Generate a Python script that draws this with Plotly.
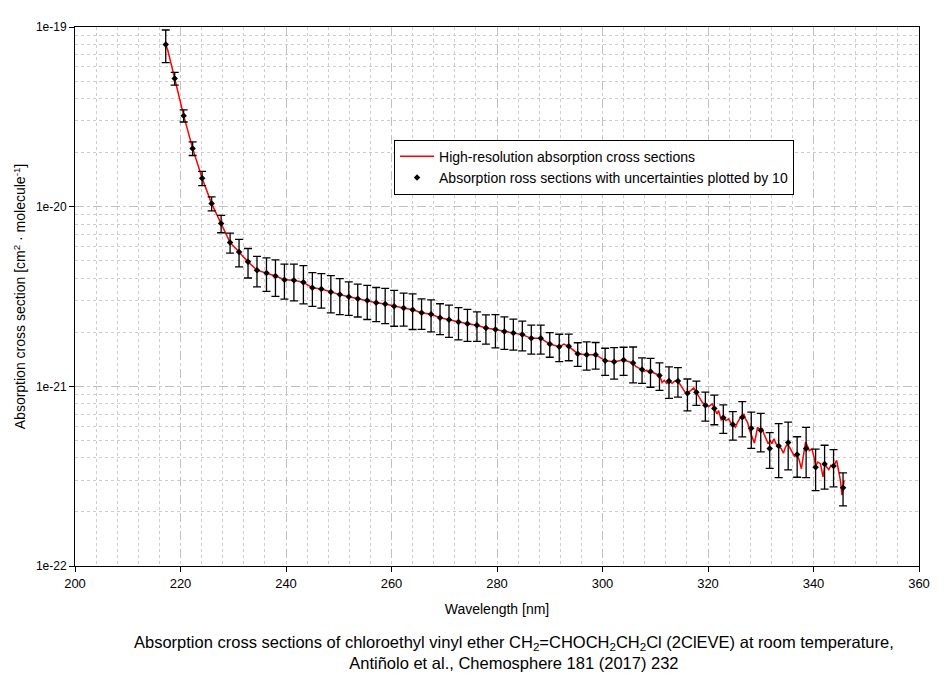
import plotly.graph_objects as go

# Marker data (every 10th point) with relative uncertainties
pt_wl = [217.2, 218.9, 220.6, 222.3, 224.1, 225.9, 227.7, 229.4, 231.1, 232.8,
         234.5, 236.3, 238.0, 239.7, 241.5, 243.3, 245.0, 246.7, 248.5, 250.2,
         251.9, 253.6, 255.4, 257.1, 258.8, 260.5, 262.3, 264.0, 265.7, 267.5,
         269.2, 270.9, 272.7, 274.4, 276.2, 277.9, 279.7, 281.4, 283.1, 284.8,
         286.5, 288.3, 290.0, 291.8, 293.6, 295.3, 297.0, 298.7, 300.5, 302.2,
         304.0, 305.8, 307.5, 309.1, 310.8, 312.6, 314.3, 316.1, 317.8, 319.5,
         321.2, 322.9, 324.7, 326.5, 328.2, 330.0, 331.7, 333.4, 335.2, 336.9,
         338.6, 340.4, 342.1, 343.8, 345.6]
pt_val = [7.98e-20, 5.17e-20, 3.21e-20, 2.11e-20, 1.44e-20, 1.04e-20, 8.05e-21, 6.32e-21, 5.60e-21, 4.93e-21,
          4.43e-21, 4.28e-21, 4.11e-21, 3.92e-21, 3.89e-21, 3.79e-21, 3.54e-21, 3.48e-21, 3.35e-21, 3.24e-21,
          3.15e-21, 3.07e-21, 3.00e-21, 2.92e-21, 2.87e-21, 2.79e-21, 2.73e-21, 2.67e-21, 2.57e-21, 2.52e-21,
          2.41e-21, 2.35e-21, 2.28e-21, 2.23e-21, 2.19e-21, 2.11e-21, 2.07e-21, 2.02e-21, 1.98e-21, 1.94e-21,
          1.85e-21, 1.85e-21, 1.72e-21, 1.66e-21, 1.67e-21, 1.52e-21, 1.50e-21, 1.50e-21, 1.39e-21, 1.37e-21,
          1.40e-21, 1.35e-21, 1.24e-21, 1.21e-21, 1.15e-21, 1.07e-21, 1.07e-21, 9.14e-22, 9.26e-22, 7.84e-22,
          7.52e-22, 6.68e-22, 6.13e-22, 6.73e-22, 5.85e-22, 5.70e-22, 4.51e-22, 4.65e-22, 4.87e-22, 4.18e-22,
          4.51e-22, 3.55e-22, 3.69e-22, 3.60e-22, 2.73e-22]
pt_relerr = [0.206, 0.081, 0.078, 0.087, 0.091, 0.089, 0.111, 0.127, 0.174, 0.187,
             0.193, 0.212, 0.230, 0.220, 0.232, 0.240, 0.212, 0.217, 0.234, 0.226,
             0.212, 0.208, 0.215, 0.215, 0.222, 0.226, 0.208, 0.224, 0.193, 0.202,
             0.196, 0.204, 0.204, 0.202, 0.187, 0.185, 0.210, 0.206, 0.196, 0.189,
             0.183, 0.183, 0.156, 0.174, 0.169, 0.150, 0.179, 0.169, 0.172, 0.199,
             0.179, 0.226, 0.162, 0.183, 0.174, 0.200, 0.187, 0.202, 0.154, 0.183,
             0.187, 0.181, 0.181, 0.222, 0.228, 0.242, 0.226, 0.332, 0.297, 0.254,
             0.312, 0.260, 0.274, 0.235, 0.208]

# High-resolution spectrum (red line)
hr_wl = [217.2, 217.6, 218.9, 220.6, 222.3, 224.1, 225.9, 227.7, 229.4, 231.1, 232.8,
         234.5, 236.3, 238.0, 239.7, 241.5, 243.3, 245.0, 246.7, 248.5, 250.2,
         251.9, 253.6, 255.4, 257.1, 258.8, 260.5, 262.3, 264.0, 265.7, 267.5,
         269.2, 270.9, 272.7, 274.4, 276.2, 277.9, 279.7, 281.4, 283.1, 284.8,
         286.5, 288.3, 290.0, 291.8, 292.7, 293.6, 295.3, 297.0, 298.7, 300.5, 302.2,
         304.0, 305.8, 306.3, 307.0, 307.4, 307.9, 308.4, 308.8, 309.1, 309.8, 310.5,
         310.8, 311.3, 311.7, 312.2, 312.6, 313.2, 313.7, 314.3, 314.9, 315.5,
         315.8, 316.3, 316.9, 317.3, 317.8, 318.4, 318.9, 319.5, 320.1, 320.8,
         321.2, 321.7, 322.0, 322.5, 322.9, 323.4, 323.9, 324.4, 324.7, 325.2,
         325.6, 326.1, 326.6, 326.8, 327.1, 327.5, 327.9, 328.2, 328.5, 328.8,
         329.1, 329.4, 329.9, 330.3, 330.6, 331.0, 331.4, 331.8, 332.1, 332.5,
         332.9, 333.4, 333.9, 334.3, 334.7, 335.1, 335.6, 335.9, 336.4, 336.9,
         337.3, 337.7, 338.1, 338.5, 338.8, 339.2, 339.7, 340.1, 340.4, 340.8,
         341.3, 341.6, 341.8, 342.2, 342.5, 342.9, 343.3, 343.7, 344.0, 344.4,
         344.8, 345.1, 345.4, 345.6, 345.8]
hr_val = [7.98e-20, 7.4e-20, 5.17e-20, 3.21e-20, 2.11e-20, 1.44e-20, 1.04e-20, 8.05e-21, 6.32e-21, 5.60e-21, 4.93e-21,
          4.43e-21, 4.28e-21, 4.11e-21, 3.92e-21, 3.89e-21, 3.79e-21, 3.54e-21, 3.48e-21, 3.35e-21, 3.24e-21,
          3.15e-21, 3.07e-21, 3.00e-21, 2.92e-21, 2.87e-21, 2.79e-21, 2.73e-21, 2.67e-21, 2.57e-21, 2.52e-21,
          2.41e-21, 2.35e-21, 2.28e-21, 2.23e-21, 2.19e-21, 2.11e-21, 2.07e-21, 2.02e-21, 1.98e-21, 1.94e-21,
          1.85e-21, 1.85e-21, 1.72e-21, 1.66e-21, 1.72e-21, 1.67e-21, 1.52e-21, 1.50e-21, 1.50e-21, 1.39e-21, 1.37e-21,
          1.40e-21, 1.35e-21, 1.29e-21, 1.26e-21, 1.24e-21, 1.21e-21, 1.23e-21, 1.19e-21, 1.21e-21, 1.18e-21, 1.16e-21,
          1.15e-21, 1.05e-21, 1.08e-21, 1.04e-21, 1.07e-21, 1.04e-21, 1.07e-21, 1.07e-21, 1.01e-21, 9.55e-22,
          9.14e-22, 9.26e-22, 9.55e-22, 9.79e-22, 9.26e-22, 8.68e-22, 8.15e-22, 7.84e-22, 7.71e-22, 7.98e-22,
          7.52e-22, 7.03e-22, 7.33e-22, 6.51e-22, 6.68e-22, 6.45e-22, 6.59e-22, 6.18e-22, 6.13e-22, 5.92e-22,
          6.31e-22, 6.68e-22, 6.79e-22, 7.03e-22, 6.59e-22, 6.31e-22, 5.68e-22, 5.44e-22, 5.10e-22, 4.83e-22,
          5.33e-22, 5.92e-22, 5.73e-22, 5.80e-22, 5.44e-22, 5.10e-22, 4.79e-22, 5.00e-22, 4.79e-22, 5.10e-22,
          4.79e-22, 4.65e-22, 4.49e-22, 4.25e-22, 4.59e-22, 4.79e-22, 4.49e-22, 4.36e-22, 4.07e-22, 4.18e-22,
          3.87e-22, 3.48e-22, 4.04e-22, 4.89e-22, 4.69e-22, 4.39e-22, 4.49e-22, 4.04e-22, 3.58e-22, 3.79e-22,
          3.71e-22, 3.41e-22, 3.13e-22, 3.71e-22, 3.55e-22, 3.44e-22, 3.63e-22, 3.56e-22, 3.71e-22, 3.87e-22,
          3.33e-22, 3.00e-22, 2.48e-22, 2.73e-22, 3.00e-22]

y_tickvals = [1e-22, 1e-21, 1e-20, 1e-19]
y_ticktext = ["1e-22", "1e-21", "1e-20", "1e-19"]
x_tickvals = [200, 220, 240, 260, 280, 300, 320, 340, 360]

pt_err = [v * e for v, e in zip(pt_val, pt_relerr)]

FONT = "Liberation Sans, Arial, sans-serif"

fig = go.Figure()
fig.add_trace(go.Scatter(
    x=hr_wl, y=hr_val, mode="lines",
    line=dict(color="#ff0000", width=1.5),
    name="High-resolution absorption cross sections",
))
fig.add_trace(go.Scatter(
    x=pt_wl, y=pt_val, mode="markers",
    marker=dict(color="black", size=5, symbol="diamond"),
    error_y=dict(type="data", array=pt_err, visible=True,
                 color="black", thickness=1.3, width=4),
    name="Absorption ross sections with uncertainties plotted by 10",
))

grid_major = "#c0c0c0"
grid_minor = "#cccccc"

fig.update_layout(
    width=936, height=668,
    margin=dict(l=65, r=25, t=17, b=110),
    paper_bgcolor="white", plot_bgcolor="white",
    font=dict(family=FONT, size=13, color="black"),
    showlegend=True,
    legend=dict(
        x=0.378, y=0.791, xanchor="left", yanchor="top",
        bgcolor="white", bordercolor="black", borderwidth=1,
        font=dict(family=FONT, size=14, color="black"),
        tracegroupgap=0, itemwidth=34,
    ),
    xaxis=dict(
        range=[200, 360], tickmode="array", tickvals=x_tickvals,
        showline=True, linecolor="black", linewidth=1, mirror=True,
        ticks="outside", ticklen=5, tickcolor="black",
        showgrid=True, gridcolor=grid_major, griddash="dash", gridwidth=1,
        minor=dict(dtick=4, tick0=200, showgrid=True, gridcolor=grid_minor,
                   griddash="dot", gridwidth=1, ticks=""),
        zeroline=False,
        title=dict(text="Wavelength [nm]", font=dict(family=FONT, size=14), standoff=14),
        tickfont=dict(family=FONT, size=13),
    ),
    yaxis=dict(
        type="log", range=[-22, -19], tickmode="array",
        tickvals=y_tickvals, ticktext=y_ticktext,
        showline=True, linecolor="black", linewidth=1, mirror=True,
        ticks="outside", ticklen=5, tickcolor="black",
        showgrid=True, gridcolor=grid_major, griddash="dash", gridwidth=1,
        minor=dict(dtick="D1", showgrid=True, gridcolor=grid_minor,
                   griddash="dot", gridwidth=1, ticks=""),
        zeroline=False,
        title=dict(text="Absorption cross section [cm<sup>2</sup> · molecule<sup>-1</sup>]",
                   font=dict(family=FONT, size=14), standoff=6),
        tickfont=dict(family=FONT, size=12),
    ),
)

fig.add_annotation(
    xref="paper", yref="paper", x=0.52, y=-0.12, xanchor="center", yanchor="top",
    text=("Absorption cross sections of chloroethyl vinyl ether CH<sub>2</sub>=CHOCH<sub>2</sub>CH<sub>2</sub>Cl "
          "(2ClEVE) at room temperature,<br>Antiñolo et al., Chemosphere 181 (2017) 232"),
    showarrow=False, align="center",
    font=dict(family=FONT, size=16.5, color="black"),
)

fig.write_html("out.html")
